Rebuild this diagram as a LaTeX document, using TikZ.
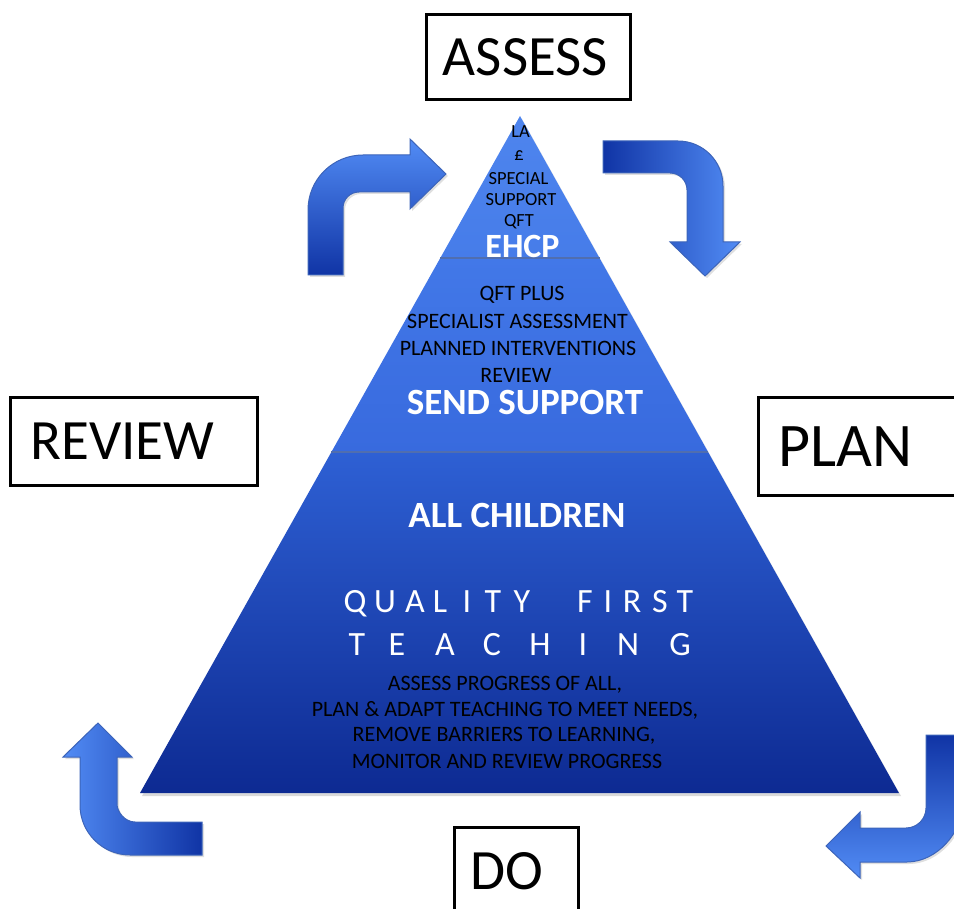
\documentclass[tikz,border=0pt]{standalone}
\usepackage{fontspec}
\setmainfont{Carlito}
\usetikzlibrary{shadows}
\definecolor{arrowlight}{RGB}{82,140,245}
\definecolor{arrowmid}{RGB}{66,118,230}
\definecolor{arrowdark}{RGB}{16,52,165}
\definecolor{arrowedge}{RGB}{60,100,185}
\definecolor{pyrA}{RGB}{78,133,238}
\definecolor{pyrB}{RGB}{70,124,233}
\definecolor{pyrC}{RGB}{66,120,232}
\definecolor{pyrD}{RGB}{56,106,222}
\definecolor{pyrE}{RGB}{46,96,212}
\definecolor{pyrF}{RGB}{32,76,190}
\definecolor{pyrG}{RGB}{13,42,146}
\definecolor{divider}{RGB}{80,110,175}
\begin{document}
\begin{tikzpicture}[x=1pt,y=-1pt,
  labelbox/.style={draw=black, line width=3pt, fill=white, inner sep=0pt},
  boxtext/.style={inner sep=0pt, text=black, font=\fontsize{57}{60}\selectfont},
  smalltxt/.style={inner sep=0pt, text=black, font=\fontsize{18.5}{20}\selectfont},
  midtxt/.style={inner sep=0pt, text=black, font=\fontsize{22}{24}\selectfont},
  bigwhite/.style={inner sep=0pt, text=white, font=\bfseries\fontsize{37}{40}\selectfont},
  spacedletter/.style={inner sep=0pt, text=white, anchor=base, font=\fontsize{34}{36}\selectfont},
  bottxt/.style={inner sep=0pt, text=black, font=\fontsize{22}{24}\selectfont},
  bentarrow/.style={draw=arrowedge, line width=1pt,
    drop shadow={opacity=0.25, shadow xshift=2pt, shadow yshift=-2pt}}
]
\useasboundingbox (0,0) rectangle (954,909);

% pyramid corners
\coordinate (apex) at (520,116);
\coordinate (bl) at (140,793);
\coordinate (br) at (899,793);
\coordinate (d1l) at (440.3,258);
\coordinate (d1r) at (599.5,258);
\coordinate (d2l) at (331.4,452);
\coordinate (d2r) at (708.1,452);

% shadow
\fill[white, drop shadow={opacity=0.3, shadow xshift=2pt, shadow yshift=-3pt}]
  (apex) -- (bl) -- (br) -- cycle;
% sections
\shade[top color=pyrA, bottom color=pyrB] (apex) -- (d1l) -- (d1r) -- cycle;
\shade[top color=pyrC, bottom color=pyrD] (d1l) -- (d2l) -- (d2r) -- (d1r) -- cycle;
\shade[top color=pyrE, middle color=pyrF, bottom color=pyrG] (d2l) -- (bl) -- (br) -- (d2r) -- cycle;
\draw[divider, line width=2.5pt] (d1l) -- (d1r);
\draw[divider, line width=2.5pt] (d2l) -- (d2r);

% arrows
% top-left
\path[bentarrow, top color=arrowlight, middle color=arrowmid, bottom color=arrowdark]
  (308,275) -- (308,210) .. controls (308,179.6) and (332.6,155) .. (363,155)
  -- (410,155) -- (410,139) -- (446,174) -- (410,209) -- (410,192) -- (359,192)
  .. controls (350.2,192) and (343,199.2) .. (343,208) -- (343,275) -- cycle;
% top-right
\path[bentarrow, left color=arrowdark, right color=arrowlight]
  (603,141) -- (678,141) .. controls (702.9,141) and (723,161.1) .. (723,186)
  -- (723,242) -- (740,242) -- (705,276) -- (670,242) -- (687,242) -- (687,190)
  .. controls (687,180.6) and (679.4,173) .. (670,173) -- (603,173) -- cycle;
% bottom-left
\path[bentarrow, left color=arrowlight, right color=arrowdark]
  (202,822) -- (135,822) .. controls (125.1,822) and (117,812.1) .. (117,804)
  -- (117,757) -- (132,757) -- (98,723) -- (63,757) -- (80,757) -- (80,805)
  .. controls (80,832.6) and (102.4,855) .. (130,855) -- (202,855) -- cycle;
% bottom-right
\path[bentarrow, top color=arrowdark, bottom color=arrowlight]
  (926,735) -- (962,735) -- (962,807) .. controls (962,831.6) and (937.4,862) .. (907,862)
  -- (860,862) -- (860,878) -- (826,846) -- (860,812) -- (860,828) -- (906,828)
  .. controls (917,828) and (926,819) .. (926,808) -- cycle;

% label boxes
\node[labelbox, minimum width=204pt, minimum height=85pt] (assessbox) at (528,57.5) {};
\node[boxtext] (assess) at (525.5,57) {ASSESS};
\node[labelbox, minimum width=247pt, minimum height=87pt] (reviewbox) at (133.5,441.5) {};
\node[boxtext] (review) at (122.5,441.5) {REVIEW};
\node[labelbox, minimum width=217pt, minimum height=97pt] (planbox) at (866.5,446.5) {};
\node[boxtext, font=\fontsize{62}{64}\selectfont] (plan) at (845,447) {PLAN};
\node[labelbox, minimum width=124pt, minimum height=113pt] (dobox) at (516,883.5) {};
\node[boxtext] (do) at (507,871.5) {DO};

% top section text
\node[smalltxt] (la) at (520.5,132) {LA};
\node[smalltxt] (pound) at (519,156) {£};
\node[smalltxt] (special) at (518.5,179) {SPECIAL};
\node[smalltxt] (support) at (521,200) {SUPPORT};
\node[smalltxt] (qft) at (519,222) {QFT};
\node[bigwhite, font=\bfseries\fontsize{34}{36}\selectfont] (ehcp) at (522.5,246) {EHCP};

% middle section text
\node[midtxt] (qftplus) at (522,295) {QFT PLUS};
\node[midtxt] (specass) at (517.5,321) {SPECIALIST ASSESSMENT};
\node[midtxt] (planned) at (518,348) {PLANNED INTERVENTIONS};
\node[midtxt] (reviewtxt) at (516,375) {REVIEW};
\node[bigwhite] (send) at (525,402.5) {SEND SUPPORT};

% bottom section text
\node[bigwhite] (allchildren) at (517,515) {ALL CHILDREN};
\foreach \ch/\xx [count=\i] in {Q/355,U/385,A/415,L/440,I/467,T/493,Y/522,F/585,I/608,R/632,S/660,T/685}
  \node[spacedletter] (qf\i) at (\xx,612) {\ch};
\foreach \ch/\xx [count=\i] in {T/357,E/397,A/445,C/492,H/540,I/583,N/628,G/680}
  \node[spacedletter] (te\i) at (\xx,655) {\ch};
\node[bottxt] (b1) at (505,685) {ASSESS PROGRESS OF ALL,};
\node[bottxt] (b2) at (505,710) {PLAN \& ADAPT TEACHING TO MEET NEEDS,};
\node[bottxt] (b3) at (504,736) {REMOVE BARRIERS TO LEARNING,};
\node[bottxt] (b4) at (507,761) {MONITOR AND REVIEW PROGRESS};
\end{tikzpicture}
\end{document}
